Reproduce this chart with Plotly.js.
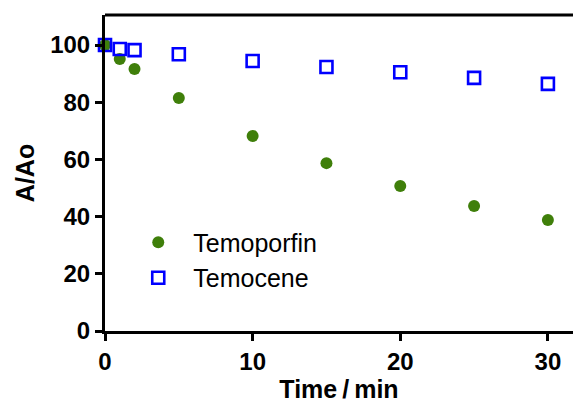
<!DOCTYPE html>
<html><head><meta charset="utf-8">
<script src="https://cdn.plot.ly/plotly-3.0.1.min.js"></script>
<style>html,body{margin:0;padding:0;background:#fff}#c{width:573px;height:403px}</style>
</head><body><div id="c"></div>
<script>
const time = [0, 1, 2, 5, 10, 15, 20, 25, 30];
const temoporfin = [100, 95.1, 91.6, 81.5, 68.2, 58.7, 50.7, 43.7, 38.8];
const temocene = [100, 98.6, 98.2, 96.8, 94.4, 92.3, 90.5, 88.5, 86.4];
const xTicks = [0, 10, 20, 30];
const yTicks = [0, 20, 40, 60, 80, 100];

const traces = [
  {x: time, y: temoporfin, name: 'Temoporfin', legendgroup: 'a', type: 'scatter', mode: 'markers', cliponaxis: false,
   marker: {symbol: 'circle', size: 12, color: '#3f7f0a'}},
  {x: time, y: temocene, name: 'Temocene', legendgroup: 'b', type: 'scatter', mode: 'markers', cliponaxis: false,
   marker: {symbol: 'square-open', size: 12, color: '#0000ff', line: {width: 2.6, color: '#0000ff'}}}
];
const FF = 'Liberation Sans, Arial, sans-serif';
const bold = {family: FF, size: 24, color: '#000', weight: 'bold'};
const layout = {
  width: 573, height: 403,
  margin: {l: 105, r: 0, t: 15, b: 72},
  paper_bgcolor: '#fff', plot_bgcolor: '#fff',
  showlegend: true,
  legend: {x: 0.039, y: 0.353, xanchor: 'left', yanchor: 'top', bgcolor: 'rgba(0,0,0,0)',
    font: {family: FF, size: 25, color: '#000'}, itemwidth: 60, tracegroupgap: 0},
  xaxis: {range: [0, 31.7], tickvals: xTicks, ticktext: xTicks.map(String), showgrid: false, zeroline: false,
    showline: true, linewidth: 3, linecolor: '#000', ticks: 'outside', ticklen: 7, tickwidth: 3, tickcolor: '#000',
    tickfont: bold, title: {text: 'Time\u2009/\u2009min', font: {family: FF, size: 25, color: '#000', weight: 'bold'}, standoff: 11}},
  yaxis: {range: [0, 110.5], tickvals: yTicks, ticktext: yTicks.map(String), showgrid: false, zeroline: false,
    showline: true, linewidth: 3, linecolor: '#000', ticks: 'outside', ticklen: 7, tickwidth: 3, tickcolor: '#000',
    tickfont: bold, title: {text: 'A/Ao', font: {family: FF, size: 25, color: '#000', weight: 'bold'}, standoff: 9}},
  shapes: [{type: 'line', xref: 'paper', yref: 'paper', x0: 0, x1: 1, y0: 1, y1: 1, line: {color: '#000', width: 3}}]
};
Plotly.newPlot('c', traces, layout, {displayModeBar: false, staticPlot: true});
</script></body></html>
